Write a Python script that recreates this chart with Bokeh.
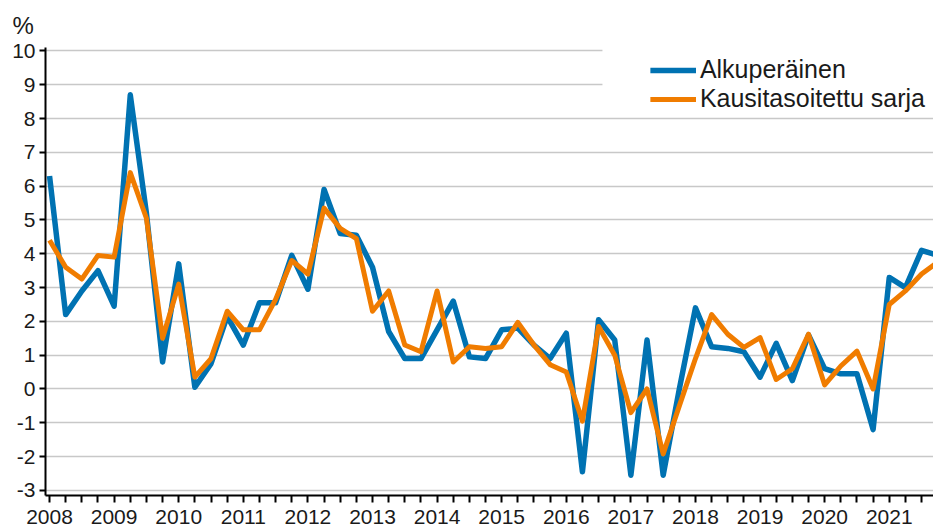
from bokeh.plotting import figure
from bokeh.models import FixedTicker, BoxAnnotation, Range1d
from bokeh.embed import file_html
from bokeh.resources import INLINE

years = list(range(2008, 2022))
quarters = [f"{y}Q{q}" for y in years for q in range(1, 5)]

alkuperainen = [6.3, 2.2, 2.9, 3.5, 2.45, 8.7, 5.2, 0.8,
                3.7, 0.05, 0.75, 2.15, 1.3, 2.55, 2.55, 3.95,
                2.95, 5.9, 4.6, 4.55, 3.6, 1.7, 0.9, 0.9,
                1.75, 2.6, 0.95, 0.9, 1.75, 1.8, 1.3, 0.9,
                1.65, -2.45, 2.05, 1.45, -2.55, 1.45, -2.55, 0.0,
                2.4, 1.25, 1.2, 1.1, 0.35, 1.35, 0.25, 1.6,
                0.6, 0.45, 0.45, -1.2, 3.3, 3.0, 4.1, 3.95]

kausitasoitettu = [4.4, 3.6, 3.25, 3.95, 3.9, 6.4, 5.05, 1.5,
                   3.1, 0.35, 0.9, 2.3, 1.75, 1.75, 2.65, 3.8,
                   3.4, 5.35, 4.75, 4.45, 2.3, 2.9, 1.3, 1.1,
                   2.9, 0.8, 1.25, 1.2, 1.25, 1.97, 1.3, 0.72,
                   0.5, -0.95, 1.85, 1.0, -0.7, 0.0, -1.92, -0.5,
                   0.9, 2.2, 1.62, 1.23, 1.52, 0.28, 0.6, 1.62,
                   0.12, 0.68, 1.12, 0.0, 2.5, 2.9, 3.4, 3.75]

y_ticks = list(range(-3, 11))

x = list(range(len(quarters)))

FONT = "Liberation Sans"
TXT = "#1a1a1a"

p = figure(width=933, height=526, output_backend="svg", toolbar_location=None,
           x_range=Range1d(-0.25, 54.74), y_range=Range1d(-3.15, 10.1),
           min_border_left=45, min_border_right=0, min_border_top=47,
           min_border_bottom=30)

p.title.text = "%"
p.title.text_font = FONT
p.title.text_font_size = "24px"
p.title.text_font_style = "normal"
p.title.text_color = TXT
p.title.align = "left"
p.title.offset = -33
p.title.standoff = 17

p.outline_line_color = None
p.background_fill_color = "white"

p.xgrid.visible = False
p.ygrid.grid_line_color = "#c8c8c8"
p.ygrid.grid_line_width = 1.6
p.ygrid.ticker = FixedTicker(ticks=y_ticks)

p.yaxis.ticker = FixedTicker(ticks=y_ticks)
p.yaxis.major_label_overrides = {v: str(v) for v in y_ticks}
p.xaxis.ticker = FixedTicker(ticks=x)
p.xaxis.major_label_overrides = {i: (str(years[i // 4]) if i % 4 == 0 else "") for i in x}

for ax in (p.xaxis[0], p.yaxis[0]):
    ax.axis_line_color = "black"
    ax.axis_line_width = 2
    ax.major_tick_line_color = "black"
    ax.major_tick_line_width = 2
    ax.minor_tick_line_color = None
    ax.major_tick_in = 0
    ax.major_label_text_font = FONT
    ax.major_label_text_font_size = "21px"
    ax.major_label_text_color = TXT

p.yaxis.major_tick_out = 6
p.yaxis.major_label_standoff = 4
p.xaxis.major_tick_out = 7
p.xaxis.major_label_standoff = 7
p.xaxis.major_label_text_line_height = 0.8

cover = BoxAnnotation(left=34.24, bottom=8.3, fill_color="white", fill_alpha=1.0,
                      line_alpha=0)
p.add_layout(cover)

p.line(x, alkuperainen, line_width=5.5, line_color="#0072b2", line_join="round",
       legend_label="Alkuperäinen")
p.line(x, kausitasoitettu, line_width=5, line_color="#f07c00", line_join="round",
       legend_label="Kausitasoitettu sarja")

lg = p.legend[0]
lg.location = "top_right"
lg.margin = 8
lg.padding = 8
lg.spacing = -4
lg.label_standoff = 4
lg.glyph_width = 46
lg.glyph_height = 20
lg.label_height = 20
lg.border_line_color = None
lg.background_fill_alpha = 0
lg.label_text_font = FONT
lg.label_text_font_size = "25px"
lg.label_text_color = TXT

open("out.html", "w").write(file_html(p, INLINE))
